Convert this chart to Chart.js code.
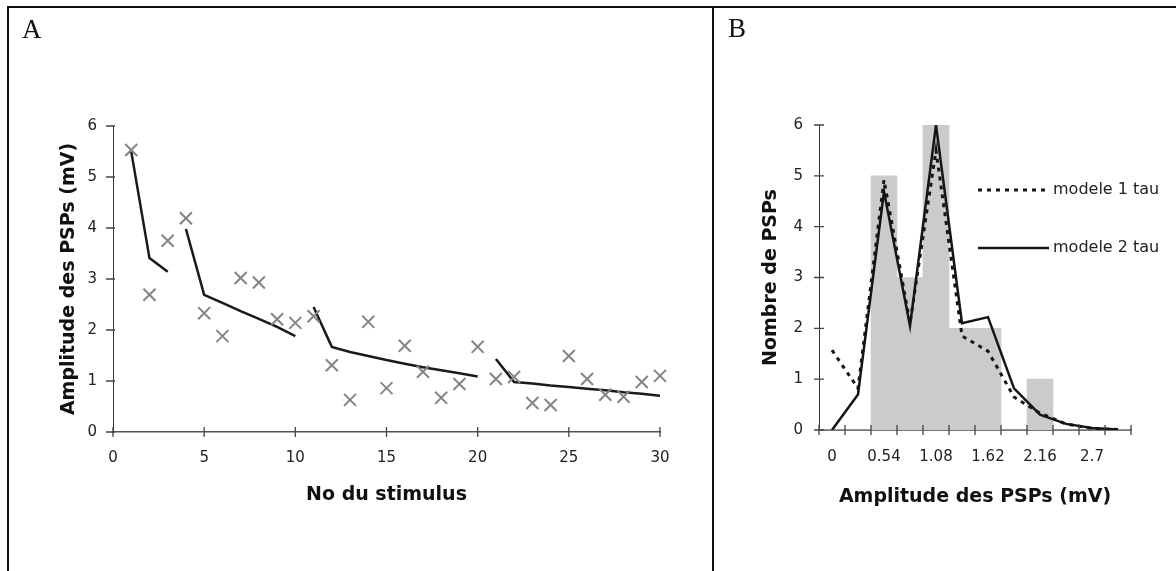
<!DOCTYPE html>
<html>
<head>
<meta charset="utf-8">
<script src="https://cdn.jsdelivr.net/npm/chart.js@4.4.1/dist/chart.umd.min.js"></script>
<style>
  body { margin: 0; background: #fff; }
  #wrap { position: relative; width: 1176px; height: 571px; overflow: hidden; background: #fff; }
  canvas { position: absolute; top: 0; }
  .frame { position: absolute; border: 2px solid #111; }
  .letter { position: absolute; font-family: 'Liberation Serif', 'Times New Roman', serif; font-size: 27px; line-height: 1; color: #111; }
</style>
</head>
<body>
<div id="wrap">
  <canvas id="chartA" width="714" height="571" style="left:0"></canvas>
  <canvas id="chartB" width="462" height="571" style="left:714px"></canvas>
  <div class="frame" style="left:7px;top:6px;width:703px;height:620px;border-bottom:none"></div>
  <div class="frame" style="left:714px;top:6px;width:470px;height:0;border-width:2px 0 0 0"></div>
  <div class="letter" style="left:22px;top:16px">A</div>
  <div class="letter" style="left:728px;top:15px">B</div>
</div>
<script>
// Panel A : amplitude des PSPs par stimulus
const stimulus = [1, 2, 3, 4, 5, 6, 7, 8, 9, 10, 11, 12, 13, 14, 15,
                  16, 17, 18, 19, 20, 21, 22, 23, 24, 25, 26, 27, 28, 29, 30];
const amplitude = [5.53, 2.69, 3.75, 4.19, 2.33, 1.88, 3.02, 2.93, 2.21, 2.14,
                   2.27, 1.31, 0.63, 2.16, 0.86, 1.69, 1.18, 0.67, 0.94, 1.67,
                   1.04, 1.08, 0.57, 0.53, 1.49, 1.04, 0.73, 0.69, 0.98, 1.10];
const ajustement = [5.50, 3.41, 3.14, 3.98, 2.69, 2.53, 2.37, 2.22, 2.06, 1.88,
                    2.45, 1.67, 1.57, 1.49, 1.41, 1.34, 1.27, 1.21, 1.15, 1.09,
                    1.43, 0.98, 0.95, 0.91, 0.88, 0.85, 0.82, 0.78, 0.75, 0.71];
const debutsTrains = [1, 4, 11, 21]; // chaque train de stimuli a son propre ajustement

// Panel B : histogramme des amplitudes
const classes = ['0', '0.27', '0.54', '0.81', '1.08', '1.35', '1.62', '1.89', '2.16', '2.43', '2.7', '2.97'];
const nombrePSPs = [0, 0, 5, 3, 6, 2, 2, 0, 1, 0, 0, 0];
const modele1tau = [1.57, 0.82, 4.92, 2.10, 5.50, 1.85, 1.55, 0.65, 0.33, 0.12, 0.03, 0.01];
const modele2tau = [0, 0.70, 4.69, 2.05, 6.00, 2.10, 2.22, 0.82, 0.30, 0.12, 0.04, 0.01];

Chart.defaults.font.family = 'DejaVu Sans';
Chart.defaults.color = '#222';

const tickFont = { size: 15 };
const titleFont = { size: 19, weight: 'bold' };

// petits traits de graduation qui traversent les axes
const crossTicks = {
    id: 'crossTicks',
    afterDraw(chart, args, opts) {
        const ctx = chart.ctx;
        const x = chart.scales.x;
        const y = chart.scales.y;
        let xs = [];
        if (opts.boundaries) {
            const n = x.ticks.length;
            const step = x.getPixelForValue(1) - x.getPixelForValue(0);
            for (let i = 0; i < n; i++) xs.push(x.getPixelForValue(i) - step / 2);
            xs.push(x.getPixelForValue(n - 1) + step / 2);
        } else {
            xs = x.ticks.map(t => x.getPixelForValue(t.value));
        }
        ctx.save();
        ctx.strokeStyle = '#444';
        ctx.lineWidth = 1.3;
        ctx.beginPath();
        xs.forEach(px => {
            ctx.moveTo(px, x.top - opts.xUp);
            ctx.lineTo(px, x.top + opts.xDown);
        });
        y.ticks.forEach(t => {
            const py = y.getPixelForValue(t.value);
            ctx.moveTo(y.right - opts.yLeft, py);
            ctx.lineTo(y.right + opts.yRight, py);
        });
        ctx.stroke();
        ctx.restore();
    }
};

// légende à droite du panel B
const legendeB = {
    id: 'legendeB',
    afterDraw(chart, args, opts) {
        const ctx = chart.ctx;
        const ca = chart.chartArea;
        ctx.save();
        ctx.font = '16px "DejaVu Sans"';
        ctx.fillStyle = '#222';
        ctx.textBaseline = 'middle';
        [0, 1].forEach((i, k) => {
            const ds = chart.data.datasets[i];
            const y = ca.top + opts.rows[k];
            ctx.strokeStyle = ds.borderColor;
            ctx.lineWidth = ds.borderWidth;
            ctx.setLineDash(ds.borderDash || []);
            ctx.beginPath();
            ctx.moveTo(opts.x0, y);
            ctx.lineTo(opts.x1, y);
            ctx.stroke();
            ctx.fillText(ds.label, opts.x1 + 4, y);
        });
        ctx.restore();
    }
};

const segments = debutsTrains.map((d, i) => {
    const fin = i + 1 < debutsTrains.length ? debutsTrains[i + 1] - 1 : stimulus[stimulus.length - 1];
    const pts = [];
    stimulus.forEach((s, j) => { if (s >= d && s <= fin) pts.push({ x: s, y: ajustement[j] }); });
    return {
        type: 'line',
        data: pts,
        borderColor: '#1a1a1a',
        borderWidth: 2.5,
        pointRadius: 0,
        tension: 0,
        fill: false
    };
});

var ctx = document.getElementById('chartA').getContext('2d');
var chartA = new Chart(ctx, {
    type: 'scatter',
    data: {
        datasets: [{
            label: 'Amplitude',
            data: stimulus.map((s, i) => ({ x: s, y: amplitude[i] })),
            pointStyle: 'crossRot',
            pointRadius: 8.5,
            borderColor: '#858585',
            borderWidth: 2,
            backgroundColor: '#858585',
            clip: false
        }, ...segments]
    },
    options: {
        responsive: false,
        animation: false,
        devicePixelRatio: 1,
        layout: { padding: { left: 0, top: 126, right: 54, bottom: 0 } },
        plugins: {
            legend: { display: false },
            tooltip: { enabled: false },
            crossTicks: { boundaries: false, xUp: 5, xDown: 5, yLeft: 7, yRight: 2 }
        },
        scales: {
            x: {
                type: 'linear',
                min: 0, max: 30,
                ticks: { stepSize: 5, padding: 17, font: tickFont },
                grid: { display: false, drawTicks: false },
                border: { color: '#555', width: 1.5 },
                title: { display: true, text: 'No du stimulus', font: titleFont, color: '#111', padding: { top: 0, bottom: 64.6 } },
                afterFit(s) { s.height = 139; }
            },
            y: {
                min: 0, max: 6,
                ticks: { stepSize: 1, padding: 16, font: tickFont },
                grid: { display: false, drawTicks: false },
                border: { color: '#333', width: 1 },
                title: { display: true, text: 'Amplitude des PSPs (mV)', font: titleFont, color: '#111', padding: { top: 57.6, bottom: 0 } },
                afterFit(s) { s.width = 113; }
            }
        }
    },
    plugins: [crossTicks]
});

var ctx = document.getElementById('chartB').getContext('2d');
var chartB = new Chart(ctx, {
    type: 'bar',
    data: {
        labels: classes,
        datasets: [{
            type: 'line',
            label: 'modele 1 tau',
            data: modele1tau,
            borderColor: '#151515',
            borderWidth: 3,
            borderDash: [4, 5],
            pointRadius: 0,
            tension: 0,
            fill: false
        }, {
            type: 'line',
            label: 'modele 2 tau',
            data: modele2tau,
            borderColor: '#151515',
            borderWidth: 2.5,
            pointRadius: 0,
            tension: 0,
            fill: false
        }, {
            label: 'Nombre de PSPs',
            data: nombrePSPs,
            backgroundColor: '#cbcbcb',
            barPercentage: 1,
            categoryPercentage: 1
        }]
    },
    options: {
        responsive: false,
        animation: false,
        devicePixelRatio: 1,
        layout: { padding: { left: 0, top: 125, right: 45, bottom: 0 } },
        plugins: {
            legend: { display: false },
            tooltip: { enabled: false },
            crossTicks: { boundaries: true, xUp: 5, xDown: 5, yLeft: 5, yRight: 5 },
            legendeB: { x0: 264, x1: 335, rows: [65, 123] }
        },
        scales: {
            x: {
                type: 'category',
                offset: true,
                ticks: {
                    autoSkip: false, maxRotation: 0, padding: 18, font: tickFont,
                    callback: function (v, i) { return i % 2 === 0 ? this.getLabelForValue(v) : ''; }
                },
                grid: { display: false, drawTicks: false, offset: true },
                border: { color: '#777', width: 2 },
                title: { display: true, text: 'Amplitude des PSPs (mV)', font: titleFont, color: '#111', padding: { top: 0, bottom: 62.6 } },
                afterFit(s) { s.height = 141; }
            },
            y: {
                min: 0, max: 6,
                ticks: { stepSize: 1, padding: 16, font: tickFont },
                grid: { display: false, drawTicks: false },
                border: { color: '#333', width: 1 },
                title: { display: true, text: 'Nombre de PSPs', font: titleFont, color: '#111', padding: { top: 45.6, bottom: 0 } },
                afterFit(s) { s.width = 105; }
            }
        }
    },
    plugins: [crossTicks, legendeB]
});
</script>
</body>
</html>
